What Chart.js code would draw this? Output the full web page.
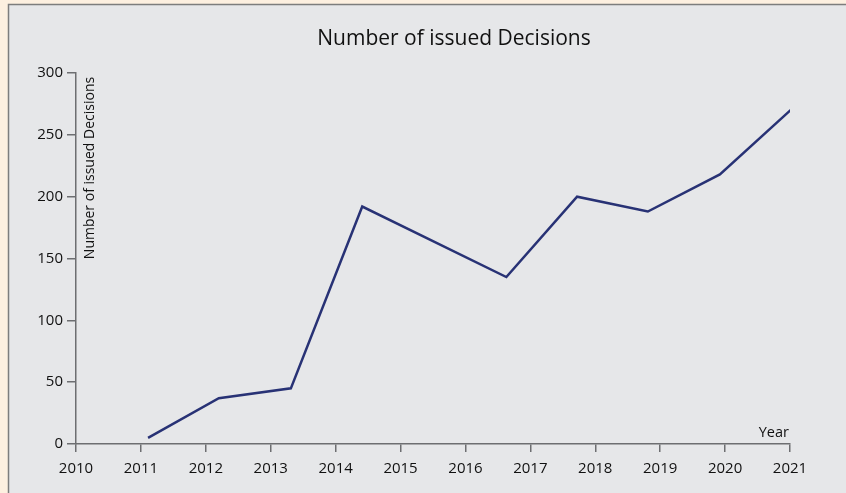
<!DOCTYPE html>
<html>
<head>
<meta charset="utf-8">
<script src="https://cdn.jsdelivr.net/npm/chart.js@4"></script>
<style>
  html, body { margin: 0; padding: 0; background: #fdf0e0; }
  #wrap { width: 846px; height: 493px; position: relative; }
</style>
</head>
<body>
<div id="wrap"><canvas id="decisionsChart" width="846" height="493"></canvas></div>
<script>
// Decisions issued per year (x is fractional year position)
const years = [2011.11, 2012.2, 2013.31, 2014.41, 2016.63, 2017.72, 2018.81, 2019.92, 2021.03];
const decisions = [5, 37, 45, 192, 135, 200, 188, 218, 271];
const yearTicks = [2010, 2011, 2012, 2013, 2014, 2015, 2016, 2017, 2018, 2019, 2020, 2021];

const chartTitle = 'Number of issued Decisions';
const yTitle = 'Number of issued Decisions';
const xTitle = 'Year';

const FONT = '"Open Sans", sans-serif';
const TEXT = '#111111';
const AXIS = '#6d6e71';

// grey panel with a dark edge on top and left, plus the text labels
const panel = {
    id: 'panel',
    beforeDraw(chart) {
        const ctx = chart.ctx;
        ctx.save();
        ctx.fillStyle = '#fdf0e0';
        ctx.fillRect(0, 0, chart.width, chart.height);
        ctx.fillStyle = '#e6e7e9';
        ctx.fillRect(8, 4, chart.width - 8, chart.height - 4);
        ctx.strokeStyle = '#7d7d7d';
        ctx.lineWidth = 1.5;
        ctx.beginPath();
        ctx.moveTo(8.5, chart.height);
        ctx.lineTo(8.5, 4.5);
        ctx.lineTo(chart.width, 4.5);
        ctx.stroke();
        ctx.restore();
    },
    afterDraw(chart) {
        const ctx = chart.ctx;
        const area = chart.chartArea;
        ctx.save();
        ctx.fillStyle = TEXT;
        ctx.textBaseline = 'middle';

        ctx.font = '21px ' + FONT;
        ctx.textAlign = 'center';
        ctx.fillText(chartTitle, 454, 39);

        ctx.font = '14.5px ' + FONT;
        ctx.textAlign = 'right';
        ctx.fillText(xTitle, area.right - 1, area.bottom - 11);

        ctx.font = '14px ' + FONT;
        ctx.translate(area.left + 14, 168);
        ctx.rotate(-Math.PI / 2);
        ctx.textAlign = 'center';
        ctx.fillText(yTitle, 0, 0);
        ctx.restore();
    }
};

const ctx = document.getElementById('decisionsChart').getContext('2d');

new Chart(ctx, {
    type: 'line',
    data: {
        datasets: [{
            label: chartTitle,
            data: years.map((x, i) => ({ x: x, y: decisions[i] })),
            borderColor: '#283275',
            borderWidth: 2.5,
            pointRadius: 0,
            tension: 0,
            fill: false
        }]
    },
    options: {
        responsive: false,
        animation: false,
        layout: { padding: { top: 73, right: 56, bottom: 0, left: 0 } },
        plugins: {
            legend: { display: false },
            title: { display: false },
            tooltip: { enabled: false }
        },
        scales: {
            x: {
                type: 'linear',
                min: 2010,
                max: 2021,
                afterFit(scale) { scale.height = 49; },
                afterBuildTicks(scale) {
                    scale.ticks = yearTicks.map(v => ({ value: v }));
                },
                grid: {
                    drawOnChartArea: false,
                    drawTicks: true,
                    tickLength: 8,
                    color: AXIS,
                    lineWidth: 1.5
                },
                border: { display: true, color: AXIS, width: 1.5 },
                ticks: {
                    color: TEXT,
                    font: { family: FONT, size: 15 },
                    padding: 8,
                    maxRotation: 0,
                    callback: v => String(v)
                }
            },
            y: {
                min: 0,
                max: 300,
                afterFit(scale) { scale.width = 76; },
                grid: {
                    drawOnChartArea: false,
                    drawTicks: true,
                    tickLength: 9,
                    color: AXIS,
                    lineWidth: 1.5
                },
                border: { display: true, color: AXIS, width: 1.5 },
                ticks: {
                    stepSize: 50,
                    color: TEXT,
                    font: { family: FONT, size: 15 },
                    padding: 4
                }
            }
        }
    },
    plugins: [panel]
});
</script>
</body>
</html>
